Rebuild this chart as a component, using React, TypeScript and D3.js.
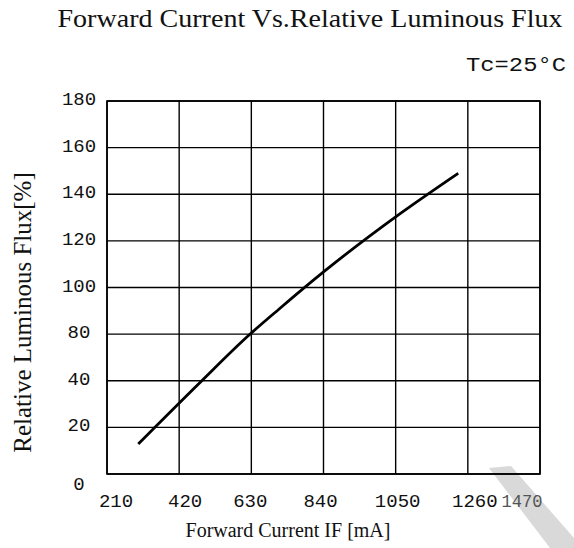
import React from "react";
import * as d3 from "d3";

// ---- data ----
const xTicks = [210, 420, 630, 840, 1050, 1260, 1470];
const yTicks = [0, 20, 40, 80, 100, 120, 140, 160, 180];
const currentMA = [301, 483, 621, 711, 841, 1064, 1232];
const fluxPct = [12.9, 39.6, 78.6, 90.8, 106.8, 131.8, 149.0];

const title = "Forward Current Vs.Relative Luminous Flux";
const condition = "Tc=25°C";
const xTitle = "Forward Current IF [mA]";
const yTitle = "Relative Luminous Flux[%]";

// ---- layout / style ----
const W = 574, H = 548;
const L = 107, R = 540, T = 101, B = 474;
const xLabelNudge = [9, 6, -1, -3, 2, 7, -18];
const serif = "'Liberation Serif', 'Times New Roman', serif";
const mono = "'Liberation Mono', 'Courier New', monospace";

export default function App() {
  const x = d3.scaleLinear().domain([xTicks[0], xTicks[xTicks.length - 1]]).range([L, R]);
  const step = (B - T) / (yTicks.length - 1);
  const y = d3.scaleLinear().domain(yTicks).range(yTicks.map((_, i) => B - i * step));
  const pts: [number, number][] = currentMA.map((c, i) => [c, fluxPct[i]]);
  const line = d3
    .line<[number, number]>()
    .x((d) => x(d[0]))
    .y((d) => y(d[1]))
    .curve(d3.curveMonotoneX);

  const last = xTicks.length - 1;

  return (
    <svg
      width={W}
      height={H}
      style={{ position: "absolute", left: 0, top: 0, background: "#fff" }}
    >
      <rect x={0} y={0} width={W} height={H} fill="#fff" />
      {/* watermark band */}
      <polygon points="489,468 511,466 574,538 574,548 550,548" fill="#d9d9d9" />
      <text
        x={310}
        y={27}
        textAnchor="middle"
        fontFamily={serif}
        fontSize={26}
        textLength={505}
        lengthAdjust="spacingAndGlyphs"
        fill="#111"
      >
        {title}
      </text>
      <text
        x={516}
        y={71}
        textAnchor="middle"
        fontFamily={mono}
        fontSize={20}
        textLength={100}
        lengthAdjust="spacingAndGlyphs"
        fill="#111"
      >
        {condition}
      </text>
      {/* grid */}
      {xTicks.map((t) => (
        <line key={"gx" + t} x1={x(t)} x2={x(t)} y1={T} y2={B} stroke="#000" strokeWidth={1.4} />
      ))}
      {yTicks.map((t) => (
        <line key={"gy" + t} x1={L} x2={R} y1={y(t)} y2={y(t)} stroke="#000" strokeWidth={1.4} />
      ))}
      <rect x={L} y={T} width={R - L} height={B - T} fill="none" stroke="#000" strokeWidth={1.6} />
      {/* curve */}
      <path d={line(pts) || ""} fill="none" stroke="#000" strokeWidth={2.8} />
      {/* y tick labels */}
      {yTicks.map((t) => (
        <text
          key={"ly" + t}
          x={79}
          y={t === 0 ? y(t) + 16 : y(t) + 4}
          textAnchor="middle"
          fontFamily={mono}
          fontSize={19}
          fill="#111"
        >
          {t}
        </text>
      ))}
      {/* x tick labels */}
      {xTicks.map((t, i) => (
        <text
          key={"lx" + t}
          x={x(t) + xLabelNudge[i]}
          y={507}
          textAnchor="middle"
          fontFamily={mono}
          fontSize={i === last ? 18 : 19}
          textLength={i === last ? 41 : undefined}
          lengthAdjust="spacingAndGlyphs"
          fill={i === last ? "#555" : "#111"}
        >
          {t}
        </text>
      ))}
      <text x={288} y={537} textAnchor="middle" fontFamily={serif} fontSize={20} fill="#111">
        {xTitle}
      </text>
      <text
        transform={`translate(31, ${(T + B) / 2 + 25}) rotate(-90)`}
        textAnchor="middle"
        fontFamily={serif}
        fontSize={25}
        fill="#111"
      >
        {yTitle}
      </text>
    </svg>
  );
}
